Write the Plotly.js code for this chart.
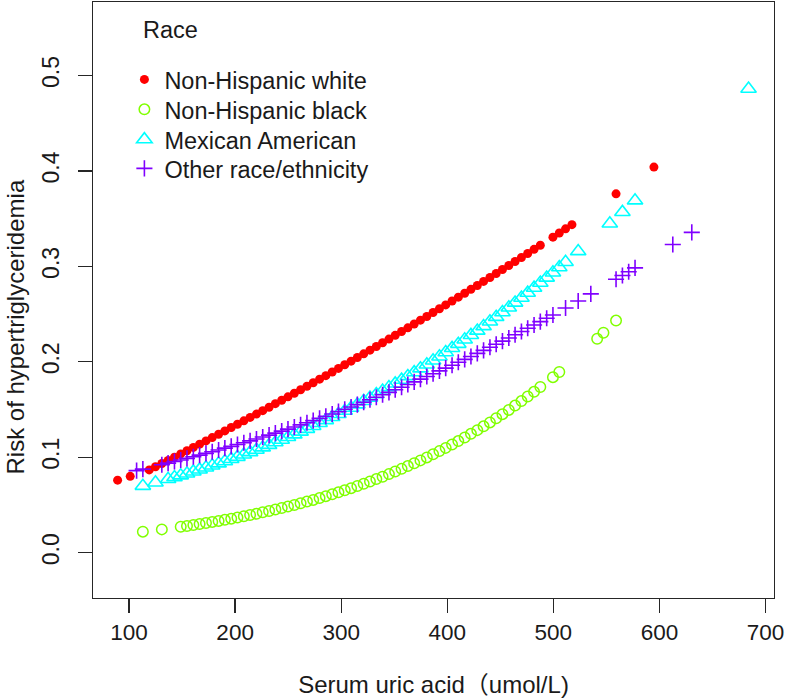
<!DOCTYPE html>
<html>
<head>
<meta charset="utf-8">
<script src="https://cdn.plot.ly/plotly-3.0.1.min.js"></script>
<style>
  html, body { margin: 0; padding: 0; background: #ffffff; }
  #chart { width: 786px; height: 699px; }
</style>
</head>
<body>
<div id="chart"></div>
<script>
// Series names (legend)
const seriesNames = ["Non-Hispanic white", "Non-Hispanic black", "Mexican American", "Other race/ethnicity"];
const legendTitle = "Race";
const xTitle = "Serum uric acid\uFF08umol/L)";
const yTitle = "Risk of hypertriglyceridemia";
const xTicks = [100, 200, 300, 400, 500, 600, 700];
const yTicks = [0.0, 0.1, 0.2, 0.3, 0.4, 0.5];

// Non-Hispanic white
const xWhite = [89.2, 101.1, 119.0, 124.9, 130.9, 136.8, 142.8, 148.7, 154.6, 160.6, 166.5, 172.5,
  178.4, 184.4, 190.3, 196.3, 202.2, 208.2, 214.1, 220.1, 226.0, 232.0, 237.9, 243.9, 249.8, 255.8,
  261.7, 267.7, 273.6, 279.6, 285.5, 291.5, 297.4, 303.3, 309.3, 315.2, 321.2, 327.1, 333.1, 339.0,
  345.0, 350.9, 356.9, 362.8, 368.8, 374.7, 380.7, 386.6, 392.6, 398.5, 404.5, 410.4, 416.4, 422.3,
  428.3, 434.2, 440.2, 446.1, 452.0, 458.0, 463.9, 469.9, 475.8, 481.8, 487.7,
  499.6, 505.6, 511.5, 517.5, 559.1, 594.8];
const yWhite = [0.076, 0.080, 0.0867, 0.0900, 0.0934, 0.0967, 0.1001, 0.1035, 0.1068, 0.1103, 0.1137, 0.1171,
  0.1206, 0.1241, 0.1276, 0.1311, 0.1346, 0.1381, 0.1417, 0.1452, 0.1488, 0.1524, 0.1561, 0.1597, 0.1633, 0.1670,
  0.1707, 0.1744, 0.1781, 0.1818, 0.1855, 0.1893, 0.1931, 0.1969, 0.2007, 0.2045, 0.2083, 0.2122, 0.2160, 0.2199,
  0.2238, 0.2277, 0.2317, 0.2356, 0.2396, 0.2436, 0.2475, 0.2516, 0.2556, 0.2596, 0.2637, 0.2677, 0.2718, 0.2759,
  0.2800, 0.2842, 0.2883, 0.2925, 0.2967, 0.3009, 0.3051, 0.3093, 0.3135, 0.3178, 0.3221,
  0.3306, 0.3350, 0.3393, 0.3437, 0.376, 0.404];

// Non-Hispanic black
const xBlack = [113.0, 130.9, 148.7, 154.6, 160.6, 166.5, 172.5,
  178.4, 184.4, 190.3, 196.3, 202.2, 208.2, 214.1, 220.1, 226.0, 232.0, 237.9, 243.9, 249.8, 255.8,
  261.7, 267.7, 273.6, 279.6, 285.5, 291.5, 297.4, 303.3, 309.3, 315.2, 321.2, 327.1, 333.1, 339.0,
  345.0, 350.9, 356.9, 362.8, 368.8, 374.7, 380.7, 386.6, 392.6, 398.5, 404.5, 410.4, 416.4, 422.3,
  428.3, 434.2, 440.2, 446.1, 452.0, 458.0, 463.9, 469.9, 475.8, 481.8, 487.7,
  499.6, 505.6, 541.3, 547.2, 559.1];
const yBlack = [0.0220, 0.0244, 0.0271, 0.0280, 0.0290, 0.0300, 0.0311,
  0.0322, 0.0333, 0.0344, 0.0356, 0.0369, 0.0382, 0.0395, 0.0408, 0.0423, 0.0437, 0.0452, 0.0468, 0.0484, 0.0500,
  0.0518, 0.0535, 0.0553, 0.0572, 0.0592, 0.0612, 0.0632, 0.0654, 0.0676, 0.0698, 0.0722, 0.0746, 0.0771, 0.0796,
  0.0823, 0.0850, 0.0878, 0.0907, 0.0937, 0.0967, 0.0998, 0.1031, 0.1064, 0.1098, 0.1133, 0.1169, 0.1207, 0.1245,
  0.1284, 0.1324, 0.1365, 0.1408, 0.1451, 0.1496, 0.1541, 0.1588, 0.1636, 0.1685, 0.1736,
  0.1839, 0.1893, 0.2242, 0.2304, 0.2432];

// Mexican American
const xMexican = [113.0, 124.9, 136.8, 142.8, 148.7, 154.6, 160.6, 166.5, 172.5,
  178.4, 184.4, 190.3, 196.3, 202.2, 208.2, 214.1, 220.1, 226.0, 232.0, 237.9, 243.9, 249.8, 255.8,
  261.7, 267.7, 273.6, 279.6, 285.5, 291.5, 297.4, 303.3, 309.3, 315.2, 321.2, 327.1, 333.1, 339.0,
  345.0, 350.9, 356.9, 362.8, 368.8, 374.7, 380.7, 386.6, 392.6, 398.5, 404.5, 410.4, 416.4, 422.3,
  428.3, 434.2, 440.2, 446.1, 452.0, 458.0, 463.9, 469.9, 475.8, 481.8, 487.7, 493.7, 499.6, 505.6, 511.5,
  523.4, 553.2, 565.1, 577.0, 684.0];
const yMexican = [0.0699, 0.0734, 0.0771, 0.0790, 0.0809, 0.0829, 0.0849, 0.0870, 0.0891,
  0.0912, 0.0934, 0.0957, 0.0980, 0.1003, 0.1027, 0.1052, 0.1077, 0.1102, 0.1128, 0.1155, 0.1182, 0.1210, 0.1238,
  0.1267, 0.1296, 0.1326, 0.1357, 0.1388, 0.1420, 0.1452, 0.1485, 0.1518, 0.1553, 0.1588, 0.1623, 0.1659, 0.1696,
  0.1733, 0.1771, 0.1810, 0.1849, 0.1889, 0.1930, 0.1971, 0.2013, 0.2055, 0.2099, 0.2143, 0.2187, 0.2233, 0.2279,
  0.2325, 0.2372, 0.2421, 0.2469, 0.2518, 0.2568, 0.2619, 0.2670, 0.2722, 0.2774, 0.2827, 0.2881, 0.2935, 0.2990, 0.3045,
  0.3158, 0.3448, 0.3568, 0.3690, 0.486];

// Other race/ethnicity
const xOther = [107.1, 113.0, 130.9, 136.8, 142.8, 148.7, 154.6, 160.6, 166.5, 172.5,
  178.4, 184.4, 190.3, 196.3, 202.2, 208.2, 214.1, 220.1, 226.0, 232.0, 237.9, 243.9, 249.8, 255.8,
  261.7, 267.7, 273.6, 279.6, 285.5, 291.5, 297.4, 303.3, 309.3, 315.2, 321.2, 327.1, 333.1, 339.0,
  345.0, 350.9, 356.9, 362.8, 368.8, 374.7, 380.7, 386.6, 392.6, 398.5, 404.5, 410.4, 416.4, 422.3,
  428.3, 434.2, 440.2, 446.1, 452.0, 458.0, 463.9, 469.9, 475.8, 481.8, 487.7, 493.7, 499.6,
  511.5, 523.4, 535.3, 559.1, 565.1, 571.0, 577.0, 612.6, 630.5];
const yOther = [0.0860, 0.0875, 0.0922, 0.0938, 0.0955, 0.0971, 0.0988, 0.1005, 0.1022, 0.1040,
  0.1058, 0.1076, 0.1095, 0.1114, 0.1133, 0.1152, 0.1171, 0.1191, 0.1212, 0.1232, 0.1253, 0.1274, 0.1295, 0.1317,
  0.1339, 0.1361, 0.1384, 0.1407, 0.1430, 0.1453, 0.1478, 0.1502, 0.1526, 0.1551, 0.1576, 0.1602, 0.1628, 0.1654,
  0.1680, 0.1707, 0.1734, 0.1762, 0.1790, 0.1818, 0.1846, 0.1875, 0.1905, 0.1934, 0.1964, 0.1995, 0.2025, 0.2056,
  0.2088, 0.2120, 0.2152, 0.2184, 0.2217, 0.2250, 0.2283, 0.2317, 0.2351, 0.2386, 0.2421, 0.2456, 0.2491,
  0.2563, 0.2637, 0.2712, 0.2865, 0.2904, 0.2944, 0.2984, 0.3229, 0.3356];

const FONT = "Liberation Sans, Arial, Helvetica, Noto Sans CJK SC, sans-serif";
const AXC = "#262626";
const TXT = "#1a1a1a";

const traces = [
  { x: xWhite, y: yWhite, name: seriesNames[0], type: "scatter", mode: "markers", legend: "legend",
    marker: { symbol: "circle", size: 9, color: "#FF0000", line: { width: 0 } } },
  { x: xBlack, y: yBlack, name: seriesNames[1], type: "scatter", mode: "markers", legend: "legend2",
    marker: { symbol: "circle-open", size: 10.5, color: "#80FF00", line: { width: 1.5, color: "#80FF00" } } },
  { x: xMexican, y: yMexican, name: seriesNames[2], type: "scatter", mode: "markers", legend: "legend3",
    marker: { symbol: "triangle-up-open", size: 13.5, color: "#00FFFF", line: { width: 1.6, color: "#00FFFF" } } },
  { x: xOther, y: yOther, name: seriesNames[3], type: "scatter", mode: "markers", legend: "legend4",
    marker: { symbol: "cross-thin-open", size: 11.5, color: "#8000FF", line: { width: 1.6, color: "#8000FF" } } }
];

function legendAt(yTop) {
  return {
    x: 0.0461, xanchor: "left", y: yTop, yanchor: "top",
    font: { family: FONT, size: 23.5, color: TXT },
    bgcolor: "rgba(0,0,0,0)", borderwidth: 0
  };
}

const layout = {
  width: 786, height: 699,
  margin: { l: 93, r: 12, t: 2, b: 101, pad: 0 },
  paper_bgcolor: "#ffffff", plot_bgcolor: "#ffffff",
  font: { family: FONT, size: 23, color: TXT },
  showlegend: true,
  legend: legendAt(0.9067),
  legend2: legendAt(0.8564),
  legend3: legendAt(0.8060),
  legend4: legendAt(0.7574),
  xaxis: {
    range: [66, 708], tickvals: xTicks, ticktext: xTicks.map(String),
    ticklabeloverflow: "allow",
    showgrid: false, zeroline: false, showline: true, mirror: true,
    linecolor: AXC, linewidth: 1.3,
    ticks: "outside", ticklen: 14, tickwidth: 1.3, tickcolor: AXC,
    tickfont: { family: FONT, size: 22.5, color: TXT },
    title: { text: xTitle, font: { family: FONT, size: 24, color: TXT }, standoff: 32 }
  },
  yaxis: {
    range: [-0.0475, 0.577], tickvals: yTicks, ticktext: yTicks.map(v => v.toFixed(1)),
    tickangle: -90,
    showgrid: false, zeroline: false, showline: true, mirror: true,
    linecolor: AXC, linewidth: 1.3,
    ticks: "outside", ticklen: 14, tickwidth: 1.3, tickcolor: AXC,
    tickfont: { family: FONT, size: 23, color: TXT },
    ticklabelstandoff: 10
  },
  annotations: [
    { text: legendTitle, xref: "paper", yref: "paper", x: 0.07, y: 0.953, xanchor: "left", yanchor: "middle",
      showarrow: false, font: { family: FONT, size: 23.5, color: TXT } },
    { text: yTitle, xref: "paper", yref: "paper", x: -0.1135, y: 0.455, xanchor: "center", yanchor: "middle",
      textangle: -90, showarrow: false, font: { family: FONT, size: 24, color: TXT } }
  ]
};

Plotly.newPlot("chart", traces, layout, { staticPlot: true, displayModeBar: false });
</script>
</body>
</html>
